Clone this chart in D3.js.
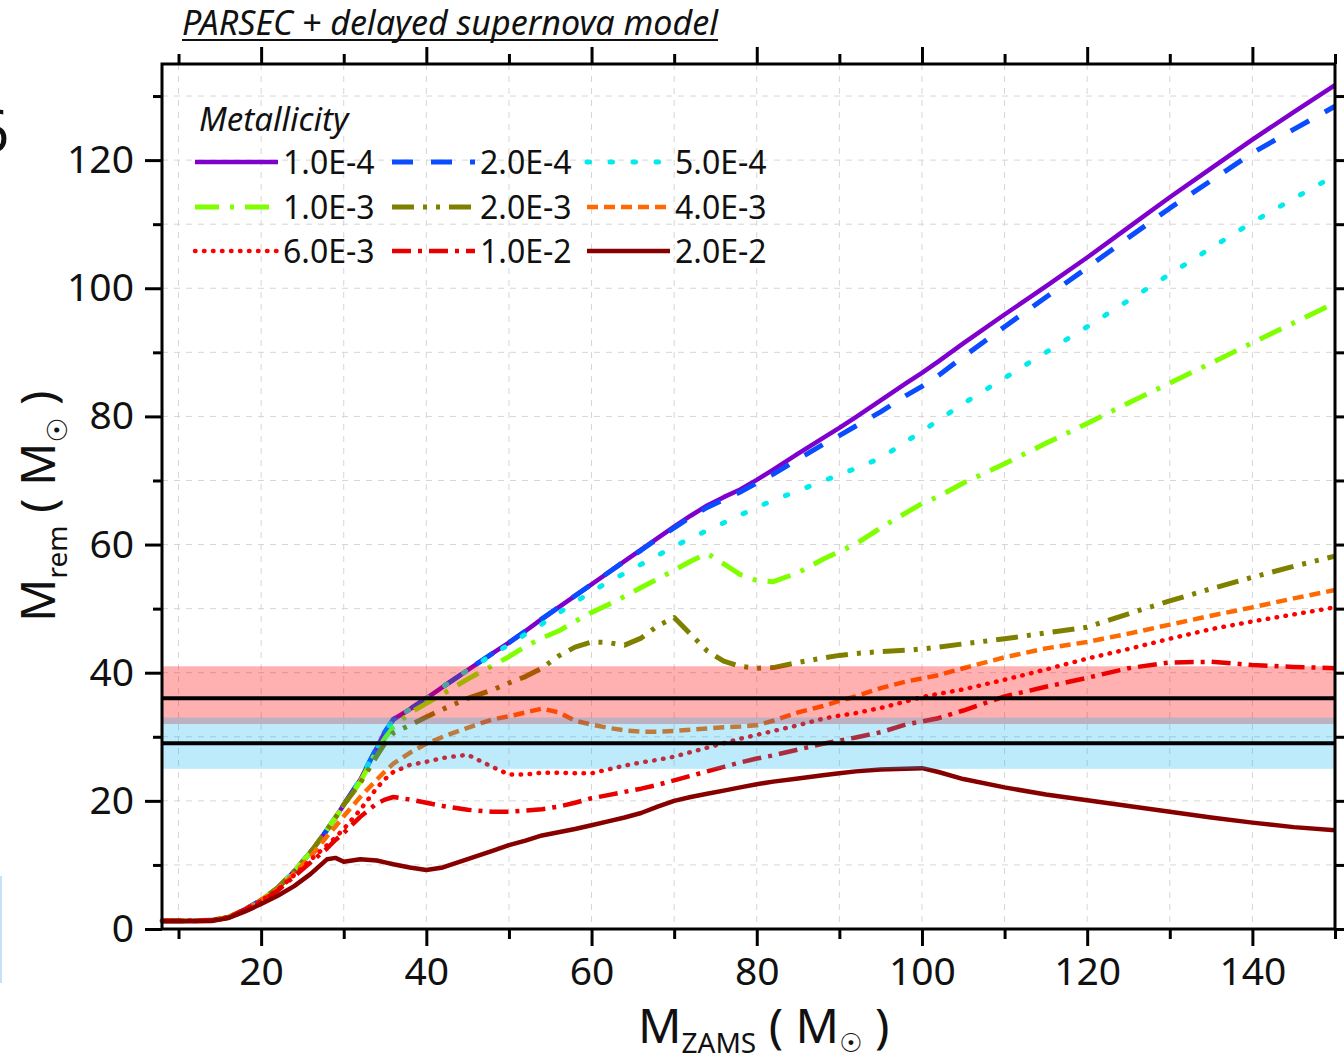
<!DOCTYPE html>
<html><head><meta charset="utf-8">
<script src="https://cdn.jsdelivr.net/npm/d3@7"></script>
<style>
body{margin:0;background:#fff;}
svg{display:block;}
text{font-family:"Noto Sans","Open Sans",sans-serif;fill:#111;}
</style>
</head><body>
<svg id="chart" width="1344" height="1061"></svg>
<script>
// ---------- data ----------
const masses = [8, 12, 14, 16, 18, 20, 22, 24, 26, 28, 29, 30, 32, 34, 35, 36, 38, 40, 42, 45, 48, 50, 52, 54, 56, 58, 60, 62, 64, 66, 68, 70, 72, 74, 76, 78, 80, 82, 85, 88, 90, 92, 95, 98, 100, 102, 105, 110, 115, 120, 125, 130, 135, 140, 145, 150];

const z1e4 = [1.3, 1.3, 1.35, 1.8, 3.0, 4.5, 6.4, 9.0, 12.0, 15.5,
  17.4, 19.4, 23.3, 28.3, 30.8, 32.7, 34.3, 36.0, 37.8, 40.4,
  43.0, 44.7, 46.5, 48.4, 50.2, 52.0, 53.8, 55.6, 57.4, 59.2,
  61.0, 62.8, 64.5, 66.1, 67.4, 68.6, 70.1, 71.7, 74.2, 76.6,
  78.2, 79.9, 82.5, 85.1, 86.8, 88.6, 91.4, 95.9, 100.3, 104.8,
  109.5, 114.2, 118.7, 123.2, 127.5, 131.7];
const z2e4 = [1.3, 1.3, 1.35, 1.8, 3.0, 4.5, 6.4, 9.0, 12.0, 15.5,
  17.4, 19.4, 23.3, 28.3, 30.8, 32.7, 34.3, 36.0, 37.8, 40.4,
  43.0, 44.7, 46.5, 48.4, 50.2, 52.0, 53.8, 55.6, 57.4, 59.1,
  60.9, 62.6, 64.3, 65.8, 67.0, 68.2, 69.6, 71.0, 73.3, 75.6,
  77.0, 78.5, 80.7, 83.2, 84.7, 86.4, 89.3, 94.0, 98.6, 103.2,
  107.9, 112.5, 116.8, 121.1, 124.8, 128.4];
const z5e4 = [1.3, 1.3, 1.35, 1.8, 3.0, 4.5, 6.4, 9.0, 12.0, 15.5,
  17.4, 19.4, 23.3, 28.3, 30.8, 32.7, 34.3, 36.0, 37.8, 40.4,
  42.8, 44.4, 46.0, 47.6, 49.3, 51.0, 52.6, 54.2, 55.5, 56.9,
  58.3, 59.7, 61.0, 62.2, 63.4, 64.6, 65.8, 66.9, 68.4, 69.9,
  70.9, 71.9, 73.5, 76.0, 77.7, 79.4, 82.0, 86.0, 90.0, 94.0,
  98.1, 102.2, 106.3, 110.3, 114.0, 117.6];
const z1e3 = [1.3, 1.3, 1.35, 1.8, 3.0, 4.5, 6.4, 9.0, 12.0, 15.5,
  17.4, 19.2, 23.0, 27.8, 29.8, 31.5, 33.7, 35.2, 36.7, 39.0,
  41.1, 42.5, 44.1, 45.4, 46.5, 48.0, 49.4, 50.6, 51.9, 53.3,
  54.6, 56.0, 57.4, 58.6, 57.0, 55.3, 54.4, 54.2, 55.6, 57.7,
  58.9, 60.1, 62.6, 64.9, 66.4, 67.5, 69.6, 72.6, 75.8, 78.9,
  82.1, 85.2, 88.3, 91.5, 94.6, 97.7];
const z2e3 = [1.3, 1.3, 1.35, 1.8, 3.0, 4.5, 6.4, 9.0, 12.0, 15.5,
  17.4, 19.4, 22.8, 27.0, 29.0, 30.6, 31.8, 33.1, 34.3, 36.0,
  37.3, 38.4, 39.4, 40.7, 42.6, 44.0, 44.8, 44.7, 44.3, 45.4,
  47.3, 48.6, 46.0, 43.4, 41.8, 41.0, 40.7, 40.8, 41.6, 42.3,
  42.7, 43.0, 43.3, 43.5, 43.7, 44.0, 44.5, 45.3, 46.2, 47.1,
  49.2, 51.2, 53.1, 54.9, 56.6, 58.2];
const z4e3 = [1.3, 1.3, 1.35, 1.8, 3.0, 4.5, 6.2, 8.7, 11.3, 14.5,
  16.0, 17.6, 20.6, 23.3, 24.6, 25.8, 27.5, 28.9, 30.0, 31.4,
  32.7, 33.2, 33.8, 34.4, 33.8, 32.5, 31.9, 31.4, 31.0, 30.8,
  30.8, 30.9, 31.1, 31.3, 31.5, 31.6, 31.8, 32.5, 33.8, 34.8,
  35.6, 36.3, 37.6, 38.6, 39.1, 39.6, 40.7, 42.4, 43.8, 44.8,
  46.1, 47.5, 48.9, 50.2, 51.6, 52.9];
const z6e3 = [1.3, 1.3, 1.35, 1.8, 3.0, 4.4, 6.1, 8.4, 10.8, 13.1,
  14.3, 15.6, 18.6, 22.0, 23.4, 24.5, 25.6, 26.1, 26.7, 27.2,
  25.3, 24.1, 24.1, 24.4, 24.4, 24.3, 24.3, 24.9, 25.5, 26.0,
  26.4, 26.9, 27.6, 28.3, 29.0, 29.7, 30.3, 30.9, 31.8, 32.8,
  33.3, 33.7, 34.5, 35.5, 36.2, 36.7, 37.4, 38.9, 40.5, 42.2,
  43.7, 45.3, 46.8, 48.0, 49.1, 50.2];
const z1e2 = [1.3, 1.3, 1.35, 1.8, 3.0, 4.3, 6.0, 8.2, 10.4, 12.6,
  13.9, 15.0, 17.5, 19.6, 20.2, 20.6, 20.2, 19.7, 19.2, 18.6,
  18.3, 18.3, 18.5, 18.7, 19.1, 19.7, 20.4, 20.9, 21.4, 21.9,
  22.5, 23.2, 23.9, 24.6, 25.3, 26.0, 26.6, 27.1, 28.0, 28.9,
  29.4, 29.9, 30.7, 31.9, 32.4, 32.9, 34.1, 36.3, 37.8, 39.2,
  40.7, 41.6, 41.7, 41.2, 40.9, 40.7];
const z2e2 = [1.2, 1.2, 1.25, 1.7, 2.7, 3.9, 5.2, 6.7, 8.6, 10.9,
  11.1, 10.5, 10.9, 10.7, 10.4, 10.1, 9.6, 9.2, 9.6, 10.9,
  12.2, 13.1, 13.8, 14.6, 15.1, 15.6, 16.2, 16.8, 17.4, 18.1,
  19.1, 20.0, 20.6, 21.1, 21.6, 22.1, 22.6, 23.0, 23.5, 24.0,
  24.3, 24.6, 24.9, 25.0, 25.1, 24.5, 23.4, 22.1, 21.0, 20.1,
  19.2, 18.3, 17.4, 16.6, 15.9, 15.4];

const seriesLabels = ["1.0E-4", "2.0E-4", "5.0E-4", "1.0E-3", "2.0E-3", "4.0E-3", "6.0E-3", "1.0E-2", "2.0E-2"];
const seriesValues = [z1e4, z2e4, z5e4, z1e3, z2e3, z4e3, z6e3, z1e2, z2e2];

// observed component masses (centre, +err, -err)
const obsCentre = [36, 29];
const obsPlus = [5, 4];
const obsMinus = [4, 4];

const xMajorTicks = [20, 40, 60, 80, 100, 120, 140];
const xMinorTicks = [10, 30, 50, 70, 90, 110, 130, 150];
const yMajorTicks = [0, 20, 40, 60, 80, 100, 120];
const yMinorTicks = [10, 30, 50, 70, 90, 110, 130];
const xGrid = [10, 20, 30, 40, 50, 60, 70, 80, 90, 100, 110, 120, 130, 140, 150];
const yGrid = [10, 20, 30, 40, 50, 60, 70, 80, 90, 100, 110, 120, 130];

// ---------- styles ----------
const colors = ["#7f00cc", "#0a4cff", "#00ecec", "#80ff00", "#808000", "#ff6a00", "#ff0000", "#e80000", "#870000"];
const dashes = ["none", "21 18", "2.5 20.5", "24 11 4 11", "22 9 4 9 4 9", "11 6", "0.5 8.5", "19 7 4 7", "none"];
const caps = ["butt", "butt", "round", "butt", "butt", "butt", "round", "butt", "butt"];
const widths = [4.5, 5, 5, 5, 5, 4.5, 4.5, 4.5, 4.5];
const bandColors = ["rgba(255,0,0,0.31)", "rgba(0,176,240,0.26)"];

const L = 162, R = 1335, T = 64, B = 929;
const svg = d3.select("#chart");
const x = d3.scaleLinear().domain([8, 150]).range([L, R]);
const y = d3.scaleLinear().domain([0, 135]).range([B, T]);

// left-edge fragments of neighbouring panel
svg.append("text").attr("x", -24).attr("y", 152).attr("font-size", 58).text("6");
svg.append("rect").attr("x", 0).attr("y", 876).attr("width", 2).attr("height", 107).attr("fill", "#c5e3f7");

// grid
const grid = svg.append("g").attr("stroke", "#d6d6d6").attr("stroke-width", 1).attr("stroke-dasharray", "6 6");
grid.selectAll(".gx").data(xGrid).join("line")
  .attr("x1", d => x(d)).attr("x2", d => x(d)).attr("y1", T).attr("y2", B);
grid.selectAll(".gy").data(yGrid).join("line")
  .attr("x1", L).attr("x2", R).attr("y1", d => y(d)).attr("y2", d => y(d));

// curves
const line = d3.line().x(d => x(d[0])).y(d => y(d[1])).curve(d3.curveLinear);
const curves = svg.append("g");
seriesValues.forEach((vals, i) => {
  curves.append("path")
    .attr("d", line(masses.map((m, k) => [m, vals[k]])))
    .attr("fill", "none")
    .attr("stroke", colors[i])
    .attr("stroke-width", widths[i])
    .attr("stroke-dasharray", dashes[i])
    .attr("stroke-linecap", caps[i])
    .attr("stroke-linejoin", "round");
});

// bands
obsCentre.forEach((c, i) => {
  svg.append("rect")
    .attr("x", L).attr("width", R - L)
    .attr("y", y(c + obsPlus[i])).attr("height", y(c - obsMinus[i]) - y(c + obsPlus[i]))
    .attr("fill", bandColors[i]);
});
obsCentre.forEach(c => {
  svg.append("line").attr("x1", L).attr("x2", R).attr("y1", y(c)).attr("y2", y(c))
    .attr("stroke", "#000").attr("stroke-width", 4);
});

// axes
function styleAxis(g, labels) {
  g.select(".domain").remove();
  g.selectAll(".tick line").attr("stroke", "#000").attr("stroke-width", 3);
  g.attr("font-family", null).attr("font-size", 39);
  g.selectAll("text").attr("fill", "#111");
  if (!labels) g.selectAll("text").remove();
}
const fmt = d3.format("d");
svg.append("g").attr("transform", `translate(0,${B})`)
  .call(d3.axisBottom(x).tickValues(xMajorTicks).tickSize(17).tickPadding(11).tickFormat(fmt)).call(g => styleAxis(g, true));
svg.append("g").attr("transform", `translate(0,${B})`)
  .call(d3.axisBottom(x).tickValues(xMinorTicks).tickSize(10)).call(g => styleAxis(g, false));
svg.append("g").attr("transform", `translate(0,${T})`)
  .call(d3.axisTop(x).tickValues(xMajorTicks).tickSize(17)).call(g => styleAxis(g, false));
svg.append("g").attr("transform", `translate(0,${T})`)
  .call(d3.axisTop(x).tickValues(xMinorTicks).tickSize(10)).call(g => styleAxis(g, false));
svg.append("g").attr("transform", `translate(${L},0)`)
  .call(d3.axisLeft(y).tickValues(yMajorTicks).tickSize(17).tickPadding(11).tickFormat(fmt)).call(g => styleAxis(g, true));
svg.append("g").attr("transform", `translate(${L},0)`)
  .call(d3.axisLeft(y).tickValues(yMinorTicks).tickSize(9)).call(g => styleAxis(g, false));
svg.append("g").attr("transform", `translate(${R},0)`)
  .call(d3.axisRight(y).tickValues(yMajorTicks).tickSize(17)).call(g => styleAxis(g, false));
svg.append("g").attr("transform", `translate(${R},0)`)
  .call(d3.axisRight(y).tickValues(yMinorTicks).tickSize(9)).call(g => styleAxis(g, false));

svg.append("rect").attr("x", L).attr("y", T).attr("width", R - L).attr("height", B - T)
  .attr("fill", "none").attr("stroke", "#000").attr("stroke-width", 3);

// title
svg.append("text").attr("x", 182).attr("y", 35).attr("font-size", 34).attr("font-style", "italic")
  .attr("textLength", 536).attr("lengthAdjust", "spacingAndGlyphs")
  .text("PARSEC + delayed supernova model");
svg.append("line").attr("x1", 182).attr("x2", 718).attr("y1", 40).attr("y2", 40)
  .attr("stroke", "#111").attr("stroke-width", 2);

// legend
svg.append("text").attr("x", 199).attr("y", 131).attr("font-size", 33).attr("font-style", "italic").text("Metallicity");
const legCols = [195, 392, 587];
const legRows = [162, 207, 251];
seriesLabels.forEach((lab, i) => {
  const cx = legCols[i % 3], cy = legRows[Math.floor(i / 3)];
  svg.append("line").attr("x1", cx).attr("x2", cx + 83).attr("y1", cy).attr("y2", cy)
    .attr("stroke", colors[i]).attr("stroke-width", widths[i])
    .attr("stroke-dasharray", dashes[i]).attr("stroke-linecap", caps[i]);
  svg.append("text").attr("x", cx + 88).attr("y", cy + 12).attr("font-size", 32).text(lab);
});

// axis titles
const xt = svg.append("text").attr("x", 638).attr("y", 1043).attr("font-size", 48);
xt.append("tspan").text("M");
xt.append("tspan").attr("font-size", 28).attr("dy", 10).text("ZAMS");
xt.append("tspan").attr("dy", -10).text(" ( M");
xt.append("tspan").attr("font-size", 26).attr("dy", 9).attr("font-family", "DejaVu Sans").text("\u2609");
xt.append("tspan").attr("dy", -9).text(" )");

const yt = svg.append("text").attr("transform", "translate(55,622) rotate(-90)").attr("font-size", 48);
yt.append("tspan").text("M");
yt.append("tspan").attr("font-size", 28).attr("dy", 12).text("rem");
yt.append("tspan").attr("dy", -12).text(" ( M");
yt.append("tspan").attr("font-size", 28).attr("dy", 12).attr("font-family", "DejaVu Sans").text("\u2609");
yt.append("tspan").attr("dy", -12).text(" )");
</script>
</body></html>
